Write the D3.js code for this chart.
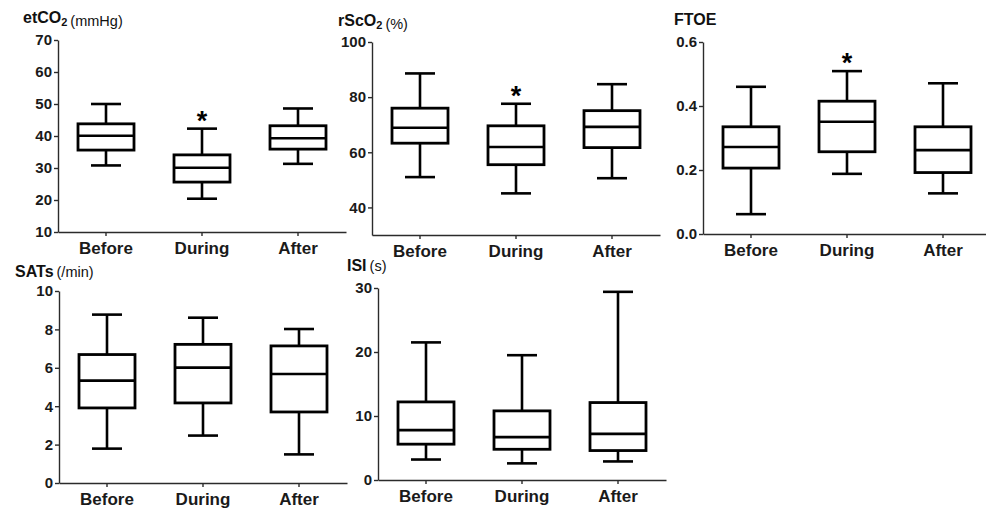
<!DOCTYPE html>
<html>
<head>
<meta charset="utf-8">
<script src="https://cdn.jsdelivr.net/npm/d3@7"></script>
<style>
  body { margin: 0; background: #fff; }
  svg { display: block; font-family: "Liberation Sans", Arial, sans-serif; }
  .axis path, .axis line { stroke: #2b2b2b; stroke-width: 1.4; }
  .axis text { fill: #1a1a1a; font-weight: bold; }
</style>
</head>
<body>
<svg id="chart" width="986" height="508"></svg>
<script>

// categories shared by every panel
var categories = ["Before", "During", "After"];

// box stats per category: [min, q1, median, q3, max]
var etco2Boxes = [[30.8, 35.6, 40.1, 43.8, 50.0], [20.4, 25.6, 30.1, 34.1, 42.3], [31.3, 35.9, 39.3, 43.2, 48.6]];
var rsco2Boxes = [[51.0, 63.3, 68.9, 76.0, 88.6], [45.1, 55.5, 61.9, 69.6, 77.6], [50.6, 61.7, 69.2, 75.1, 84.7]];
var ftoeBoxes  = [[0.062, 0.206, 0.272, 0.335, 0.460], [0.188, 0.257, 0.351, 0.415, 0.509], [0.127, 0.192, 0.262, 0.335, 0.471]];
var satsBoxes  = [[1.79, 3.91, 5.33, 6.69, 8.77], [2.47, 4.17, 6.01, 7.22, 8.61], [1.49, 3.70, 5.68, 7.14, 8.02]];
var isiBoxes   = [[3.2, 5.6, 7.8, 12.2, 21.5], [2.6, 4.8, 6.7, 10.8, 19.5], [2.9, 4.6, 7.2, 12.1, 29.4]];

// tick labels
var etco2Ticks = [10, 20, 30, 40, 50, 60, 70];
var rsco2Ticks = [40, 60, 80, 100];
var ftoeTicks  = [0, 0.2, 0.4, 0.6];
var satsTicks  = [0, 2, 4, 6, 8, 10];
var isiTicks   = [0, 10, 20, 30];

// which categories carry a significance star
var etco2Stars = ["During"];
var rsco2Stars = ["During"];
var ftoeStars  = ["During"];

var svg = d3.select("#chart");

function drawPanel(p) {
    var x = d3.scaleBand()
        .domain(categories)
        .range([p.left, p.left + 288]);

    var y = d3.scaleLinear()
        .domain(p.domain)
        .range([p.bottom, p.top]);

    var g = svg.append("g");

    // axes
    g.append("g")
        .attr("class", "axis")
        .attr("transform", "translate(0," + p.bottom + ")")
        .call(d3.axisBottom(x).tickSize(4).tickSizeOuter(0).tickPadding(6))
        .selectAll("text").style("font-size", "17px");

    g.append("g")
        .attr("class", "axis")
        .attr("transform", "translate(" + p.left + ",0)")
        .call(d3.axisLeft(y).tickValues(p.ticks).tickFormat(p.format).tickSize(4).tickSizeOuter(0).tickPadding(2))
        .selectAll("text").style("font-size", "15px");

    // boxes
    var boxW = 56, capW = 30;
    var box = g.selectAll(".box")
        .data(p.boxes)
        .enter().append("g")
        .attr("class", "box")
        .attr("transform", function(d, i) { return "translate(" + (x(categories[i]) + x.bandwidth() / 2) + ",0)"; });

    // whiskers
    box.append("line")
        .attr("y1", function(d) { return y(d[0]); })
        .attr("y2", function(d) { return y(d[1]); })
        .attr("stroke", "#000").attr("stroke-width", 2.6);
    box.append("line")
        .attr("y1", function(d) { return y(d[3]); })
        .attr("y2", function(d) { return y(d[4]); })
        .attr("stroke", "#000").attr("stroke-width", 2.6);
    [0, 4].forEach(function(k) {
        box.append("line")
            .attr("x1", -capW / 2).attr("x2", capW / 2)
            .attr("y1", function(d) { return y(d[k]); })
            .attr("y2", function(d) { return y(d[k]); })
            .attr("stroke", "#000").attr("stroke-width", 2.6);
    });

    box.append("rect")
        .attr("x", -boxW / 2)
        .attr("width", boxW)
        .attr("y", function(d) { return y(d[3]); })
        .attr("height", function(d) { return y(d[1]) - y(d[3]); })
        .attr("fill", "#fff")
        .attr("stroke", "#000").attr("stroke-width", 2.8);

    box.append("line")
        .attr("x1", -boxW / 2).attr("x2", boxW / 2)
        .attr("y1", function(d) { return y(d[2]); })
        .attr("y2", function(d) { return y(d[2]); })
        .attr("stroke", "#000").attr("stroke-width", 2.6);

    // stars
    box.filter(function(d, i) { return (p.stars || []).indexOf(categories[i]) >= 0; })
        .append("text")
        .attr("text-anchor", "middle")
        .attr("y", function(d) { return y(d[4]) + 1; })
        .style("font-size", "27px")
        .style("font-weight", "bold")
        .text("*");

    // title
    var t = g.append("text")
        .attr("x", p.titleX)
        .attr("y", p.titleY)
        .style("font-size", "16px")
        .style("font-weight", "bold")
        .attr("fill", "#111");
    t.append("tspan").text(p.title);
    if (p.sub) {
        t.append("tspan").attr("dy", 3).style("font-size", "11px").text(p.sub);
        t.append("tspan").attr("dy", -3).text("");
    }
    if (p.unit) {
        t.append("tspan").attr("dx", 3).style("font-size", "14.5px").style("font-weight", "normal").text(p.unit);
    }
}

drawPanel({ title: "etCO", sub: "2", unit: "(mmHg)", titleX: 23, titleY: 23,
    boxes: etco2Boxes, ticks: etco2Ticks, stars: etco2Stars, domain: [10, 70],
    format: d3.format("d"), left: 58, top: 40, bottom: 232 });

drawPanel({ title: "rScO", sub: "2", unit: "(%)", titleX: 338, titleY: 26,
    boxes: rsco2Boxes, ticks: rsco2Ticks, stars: rsco2Stars, domain: [30, 100],
    format: d3.format("d"), left: 372, top: 42, bottom: 235 });

drawPanel({ title: "FTOE", titleX: 674, titleY: 25,
    boxes: ftoeBoxes, ticks: ftoeTicks, stars: ftoeStars, domain: [0, 0.6],
    format: d3.format(".1f"), left: 703, top: 42, bottom: 234 });

drawPanel({ title: "SATs", unit: "(/min)", titleX: 15, titleY: 277,
    boxes: satsBoxes, ticks: satsTicks, domain: [0, 10],
    format: d3.format("d"), left: 59, top: 291, bottom: 483 });

drawPanel({ title: "ISI", unit: "(s)", titleX: 347, titleY: 271,
    boxes: isiBoxes, ticks: isiTicks, domain: [0, 30],
    format: d3.format("d"), left: 378, top: 288, bottom: 480 });

</script>
</body>
</html>
